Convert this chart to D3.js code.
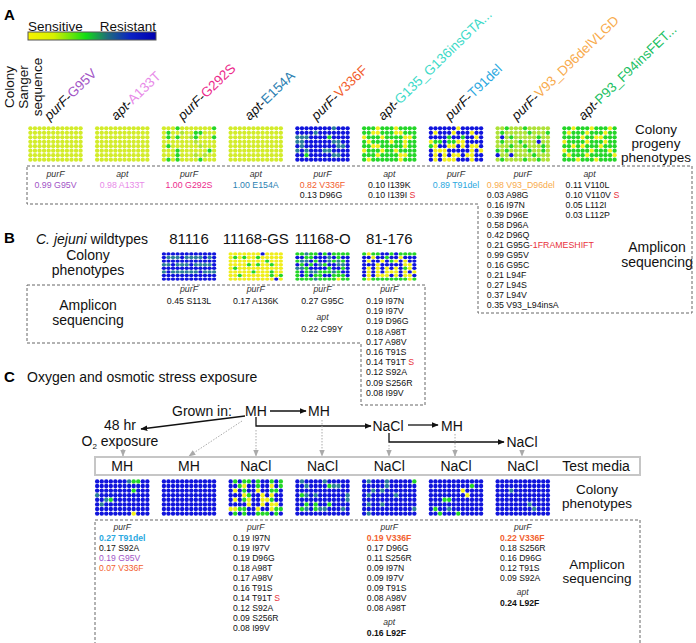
<!DOCTYPE html>
<html>
<head>
<meta charset="utf-8">
<script src="https://cdn.jsdelivr.net/npm/d3@7"></script>
<style>
body { margin: 0; background: #fff; }
svg { font-family: 'Liberation Sans', Arial, sans-serif; }
text { white-space: pre; }
</style>
</head>
<body>
<svg></svg>
<script>
// well phenotype levels: 0 = yellow (sensitive) ... 5 = blue (resistant)
const levels = [0, 1, 2, 3, 4, 5]
const levelColors = ['#f0ee1c', '#d3ec2a', '#aee238', '#24d628', '#2b8098', '#1014dc']

// panel A: colony sanger sequence
const sangerGenes = ['purF', 'apt', 'purF', 'apt', 'purF', 'apt', 'purF', 'purF', 'apt']
const sangerMuts = ['G95V', 'A133T', 'G292S', 'E154A', 'V336F', 'G135_G136insGTA...', 'T91del', 'V93_D96delVLGD', 'P93_F94insFET...']
const sangerColors = ['#a254c6', '#e88ae8', '#ec2a8c', '#2c7fb2', '#f2602e', '#3cdac8', '#2aa8e0', '#f8ab4c', '#20c062']

const mutColors = { G95V: '#a254c6', A133T: '#e88ae8', G292S: '#ec2a8c', E154A: '#2c7fb2', V336F: '#f2602e', T91del: '#2aa8e0', V93: '#f8ab4c' }

const platesA = [
  ['111111111111', '111111111111', '111111111111', '111111111111', '111111111111', '111111111111', '111111111111', '111111111111'],
  ['111111111111', '111111111111', '111111111111', '111111111111', '111111111111', '111111111111', '111111111111', '111111111111'],
  ['111311111113', '131121133111', '131311231113', '111111121111', '131111112111', '111311111131', '111311121211', '131311113111'],
  ['111111111111', '111111111111', '111111111111', '111111111111', '111111111111', '111111111111', '111111111111', '111111111111'],
  ['555555554555', '555545555555', '444555535555', '445555554455', '545555555445', '454555445555', '553555554455', '555555555555'],
  ['333033303333', '330033300333', '033303333003', '303333033033', '330033333033', '033303303333', '333033330033', '303333330333'],
  ['555555055555', '505550555055', '555535535505', '033533005555', '305500505005', '500055555050', '505050050055', '505000555055'],
  ['223222322222', '232222232223', '252322222322', '232223222522', '222322322232', '323222232232', '522522223222', '232222322322'],
  ['330333033303', '303330333033', '333303300333', '033330333033', '330303330333', '033333033303', '303330333330', '333033303333']
]

const ampliconA = [
  ['@purF', '[G95V]0.99 G95V'],
  ['@apt', '[A133T]0.98 A133T'],
  ['@purF', '[G292S]1.00 G292S'],
  ['@apt', '[E154A]1.00 E154A'],
  ['@purF', '[V336F]0.82 V336F', '0.13 D96G'],
  ['@apt', '0.10 I139K', '0.10 I139I ~S'],
  ['@purF', '[T91del]0.89 T91del'],
  ['@purF', '[V93]0.98 V93_D96del', '0.03 A98G', '0.16 I97N', '0.39 D96E', '0.58 D96A', '0.42 D96Q', '0.21 G95G~-1FRAMESHIFT',
    '0.99 G95V', '0.16 G95C', '0.21 L94F', '0.27 L94S', '0.37 L94V', '0.35 V93_L94insA'],
  ['@apt', '0.11 V110L', '0.10 V110V ~S', '0.05 L112I', '0.03 L112P']
]

// panel B: wildtypes
const strains = ['81116', '11168-GS', '11168-O', '81-176']
const platesB = [
  ['555555555555', '544454444545', '555555555555', '445444544445', '555555555555', '454444445444', '555555555555', '555555555555'],
  ['000000050000', '030300300000', '000000003000', '000030300300', '030000000000', '000003000300', '003000000303', '000000000050'],
  ['334335353333', '553355545355', '344535543435', '535354355445', '443555535535', '353443334355', '353533553335', '333343333033'],
  ['303355353333', '550553550555', '505505305055', '555055555005', '505050505305', '505050005050', '505000505005', '303333333303']
]
const ampliconB = [
  ['@purF', '0.45 S113L'],
  ['@purF', '0.17 A136K'],
  ['@purF', '0.27 G95C', '@apt', '0.22 C99Y'],
  ['@purF', '0.19 I97N', '0.19 I97V', '0.19 D96G', '0.18 A98T', '0.17 A98V', '0.16 T91S', '0.14 T91T ~S', '0.12 S92A', '0.09 S256R', '0.08 I99V']
]

// panel C: stress exposure
const testMedia = ['MH', 'MH', 'NaCl', 'NaCl', 'NaCl', 'NaCl', 'NaCl']
const platesC = [
  ['555555543355', '555555555555', '555555553555', '455555555555', '554355555555', '545555555555', '555555555555', '555555550555'],
  ['555555555555', '555555555555', '555555555555', '555555555555', '555555555555', '555555555555', '555555555555', '555555555555'],
  ['535335355353', '553055355053', '505355055335', '555035505055', '505305500355', '555505505005', '003355055033', '535355333535'],
  ['545555455555', '554555534455', '555555555555', '534545555554', '555555555554', '553535535555', '534534455545', '555555555555'],
  ['545554555553', '555554555555', '554545555555', '545555545555', '555555555555', '545545555555', '555555555554', '545555555555'],
  ['555555555555', '555555555355', '555555505555', '555555550555', '555335555555', '555555555555', '535545555555', '553555355555'],
  ['555555555555', '555555555555', '555455555555', '555555555555', '555555555555', '555555545555', '555555554555', '555555555555']
]
const ampliconC = [
  ['@purF', '![T91del]0.27 T91del', '0.17 S92A', '[G95V]0.19 G95V', '[V336F]0.07 V336F'],
  [],
  ['@purF', '0.19 I97N', '0.19 I97V', '0.19 D96G', '0.18 A98T', '0.17 A98V', '0.16 T91S', '0.14 T91T ~S', '0.12 S92A', '0.09 S256R', '0.08 I99V'],
  [],
  ['@purF', '![V336F]0.19 V336F', '0.17 D96G', '0.11 S256R', '0.09 I97N', '0.09 I97V', '0.09 T91S', '0.08 A98V', '0.08 A98T', '@apt', '!0.16 L92F'],
  [],
  ['@purF', '![V336F]0.22 V336F', '0.18 S256R', '0.16 D96G', '0.12 T91S', '0.09 S92A', '@apt', '!0.24 L92F']
]

const width = 696
const height = 643
const plateW = 55

const svg = d3.select('svg').attr('width', width).attr('height', height)

const colorScale = d3.scaleLinear().domain(levels).range(levelColors)
// plate columns are shared between the three panels
const colX = d3.scaleLinear().domain([0, 8]).range([28, 562])
const colC = (i) => colX(i) + plateW / 2

const defs = svg.append('defs')
let marker = (id, color, size) => {
  defs.append('marker').attr('id', id)
    .attr('viewBox', '0 0 10 10').attr('refX', 9).attr('refY', 5)
    .attr('markerWidth', size).attr('markerHeight', size)
    .attr('markerUnits', 'userSpaceOnUse')
    .attr('orient', 'auto')
    .append('path').attr('d', 'M0,1 L10,5 L0,9 Z').attr('fill', color)
}
marker('arrBlack', '#111', 7)
marker('arrGrey', '#aaa', 7)

let label = (x, y, txt, size, anchor) => {
  return svg.append('text').attr('x', x).attr('y', y)
    .attr('font-size', size).attr('text-anchor', anchor || 'middle')
    .attr('fill', '#111').text(txt)
}

let drawPlate = (rows, x0, y0, h) => {
  const xs = d3.scaleBand().domain(d3.range(12)).range([x0, x0 + plateW]).padding(0.05)
  const ys = d3.scaleBand().domain(d3.range(8)).range([y0, y0 + h]).padding(0.05)
  const cells = []
  rows.forEach((r, i) => {
    r.split('').forEach((v, j) => cells.push({ row: i, col: j, v: +v }))
  })
  svg.append('g').selectAll('ellipse')
    .data(cells)
    .enter()
    .append('ellipse')
    .attr('cx', d => xs(d.col) + xs.bandwidth() / 2)
    .attr('cy', d => ys(d.row) + ys.bandwidth() / 2)
    .attr('rx', xs.bandwidth() / 2)
    .attr('ry', ys.bandwidth() / 2)
    .attr('fill', d => colorScale(d.v))
}

let drawAmplicon = (lines, cx, y0, opt) => {
  const g = svg.append('g').attr('font-size', opt.size)
  let y = y0
  let prev = null
  const vals = []
  lines.forEach((ln) => {
    if (ln[0] === '@') {
      if (prev) y += opt.gapBefore
      g.append('text').attr('x', cx).attr('y', y).attr('text-anchor', 'middle')
        .attr('font-style', 'italic').attr('fill', '#333').text(ln.slice(1))
      prev = 'gene'
    } else {
      if (prev) y += (prev === 'gene' ? opt.afterHeader : opt.lineH)
      let s = ln
      let bold = false
      let color = '#111'
      if (s[0] === '!') { bold = true; s = s.slice(1) }
      const m = s.match(/^\[(\w+)\]/)
      if (m) { color = mutColors[m[1]]; s = s.slice(m[0].length) }
      const parts = s.split('~')
      const t = g.append('text').attr('y', y).attr('fill', color)
        .attr('font-weight', bold ? 'bold' : null)
      const main = t.append('tspan').text(parts[0])
      if (parts[1]) t.append('tspan').attr('fill', '#e8323c').text(parts[1])
      vals.push({ t: t, main: main })
      prev = 'val'
    }
  })
  // block is centred on the plate, red suffixes hang off the right
  const w = d3.max(vals, v => v.main.node().getComputedTextLength()) || 0
  vals.forEach(v => v.t.attr('x', cx - w / 2))
}

let dashed = (d) => {
  svg.append('path').attr('d', d).attr('fill', 'none')
    .attr('stroke', '#666').attr('stroke-width', 1).attr('stroke-dasharray', '3,2')
}

// ---------- panel A ----------
svg.append('text').attr('x', 4).attr('y', 20).attr('font-size', 15).attr('font-weight', 'bold').text('A')
label(28, 31, 'Sensitive', 13.5, 'start')
label(156, 31, 'Resistant', 13.5, 'end')

const grad = defs.append('linearGradient').attr('id', 'cbar')
const gradStops = [[0, '#f8f400'], [0.2, '#d6f000'], [0.45, '#12de14'], [0.62, '#1f6c7c'], [0.8, '#0a22c4'], [1, '#0000b0']]
gradStops.forEach(s => grad.append('stop').attr('offset', s[0]).attr('stop-color', s[1]))
svg.append('rect').attr('x', 28).attr('y', 32).attr('width', 128).attr('height', 8)
  .attr('fill', 'url(#cbar)').attr('stroke', '#555').attr('stroke-width', 1)

const sideLab = ['Colony', 'Sanger', 'sequence']
sideLab.forEach((s, i) => {
  svg.append('text').attr('transform', 'translate(' + (14 + i * 14) + ',87) rotate(-90)')
    .attr('text-anchor', 'middle').attr('font-size', 13.5).attr('fill', '#111').text(s)
})

sangerMuts.forEach((m, i) => {
  const t = svg.append('text')
    .attr('transform', 'translate(' + (colC(i) - 6) + ',121) rotate(-44)')
    .attr('font-size', 13.5)
  t.append('tspan').attr('font-style', 'italic').attr('fill', '#111').text(sangerGenes[i])
  t.append('tspan').attr('fill', '#111').text('-')
  t.append('tspan').attr('fill', sangerColors[i]).text(m)
})

platesA.forEach((p, i) => drawPlate(p, colX(i), 126, 36))
label(656, 134, 'Colony', 13.5)
label(656, 148, 'progeny', 13.5)
label(656, 162, 'phenotypes', 13.5)

dashed('M27,166 H692 V313 H478 V204 H27 Z')
ampliconA.forEach((a, i) => drawAmplicon(a, colC(i), 177, { size: 8.8, gapBefore: 14, afterHeader: 11, lineH: 10 }))
label(657, 252, 'Amplicon', 14)
label(657, 267, 'sequencing', 14)

// ---------- panel B ----------
svg.append('text').attr('x', 4).attr('y', 243).attr('font-size', 15).attr('font-weight', 'bold').text('B')
const sp = svg.append('text').attr('x', 36).attr('y', 244).attr('font-size', 14).attr('fill', '#111')
sp.append('tspan').attr('font-style', 'italic').text('C. jejuni')
sp.append('tspan').text(' wildtypes')
strains.forEach((s, i) => label(colC(i + 2), 244, s, 15))
label(88, 260, 'Colony', 14)
label(88, 275, 'phenotypes', 14)
platesB.forEach((p, i) => drawPlate(p, colX(i + 2), 252, 29))

dashed('M27,285 H425 V405 H361 V343 H27 Z')
ampliconB.forEach((a, i) => drawAmplicon(a, colC(i + 2), 292, { size: 8.8, gapBefore: 16, afterHeader: 12, lineH: 10.2 }))
label(88, 310, 'Amplicon', 14)
label(88, 325, 'sequencing', 14)

// ---------- panel C ----------
svg.append('text').attr('x', 4).attr('y', 382).attr('font-size', 15).attr('font-weight', 'bold').text('C')
label(27, 382, 'Oxygen and osmotic stress exposure', 14, 'start')

label(172, 416, 'Grown in:', 14, 'start')
label(256, 416, 'MH', 14)
label(319, 416, 'MH', 14)
label(388, 431, 'NaCl', 14)
label(452, 431, 'MH', 14)
label(522, 447, 'NaCl', 14)
label(120, 430, '48 hr', 14)
const o2 = svg.append('text').attr('x', 120).attr('y', 446).attr('font-size', 14)
  .attr('text-anchor', 'middle').attr('fill', '#111')
o2.append('tspan').text('O')
o2.append('tspan').attr('font-size', 8).attr('dy', 3).text('2')
o2.append('tspan').attr('dy', -3).text(' exposure')

let arrow = (d, grey) => {
  svg.append('path').attr('d', d).attr('fill', 'none')
    .attr('stroke', grey ? '#aaa' : '#111')
    .attr('stroke-width', grey ? 1 : 1.3)
    .attr('stroke-dasharray', grey ? '1.5,1.5' : null)
    .attr('marker-end', grey ? 'url(#arrGrey)' : 'url(#arrBlack)')
}
arrow('M270,411 H306')
arrow('M256,417 V426 H371')
arrow('M408,425 H438')
arrow('M389,433 V442 H504')
arrow('M245,416 L141,429')

arrow('M123,449 V456', true)
arrow('M242,421 L189,456', true)
arrow('M256,430 V456', true)
arrow('M322,420 V456', true)
arrow('M389,445 V456', true)
arrow('M455,434 V456', true)
arrow('M522,450 V456', true)

svg.append('rect').attr('x', 95).attr('y', 457).attr('width', 545).attr('height', 18)
  .attr('fill', 'none').attr('stroke', '#c6c6c6').attr('stroke-width', 2)
testMedia.forEach((m, i) => label(colC(i + 1), 471, m, 14))
label(596, 471, 'Test media', 14)

platesC.forEach((p, i) => drawPlate(p, colX(i + 1), 479, 37))
label(597, 493.5, 'Colony', 13.5)
label(597, 508, 'phenotypes', 13.5)

dashed('M95,650 V520 H640 V650')
ampliconC.forEach((a, i) => {
  if (a.length) drawAmplicon(a, colC(i + 1), 530, { size: 8.6, gapBefore: 14, afterHeader: 11, lineH: 10 })
})
label(597, 568.5, 'Amplicon', 13.5)
label(597, 583, 'sequencing', 13.5)
</script>
</body>
</html>
